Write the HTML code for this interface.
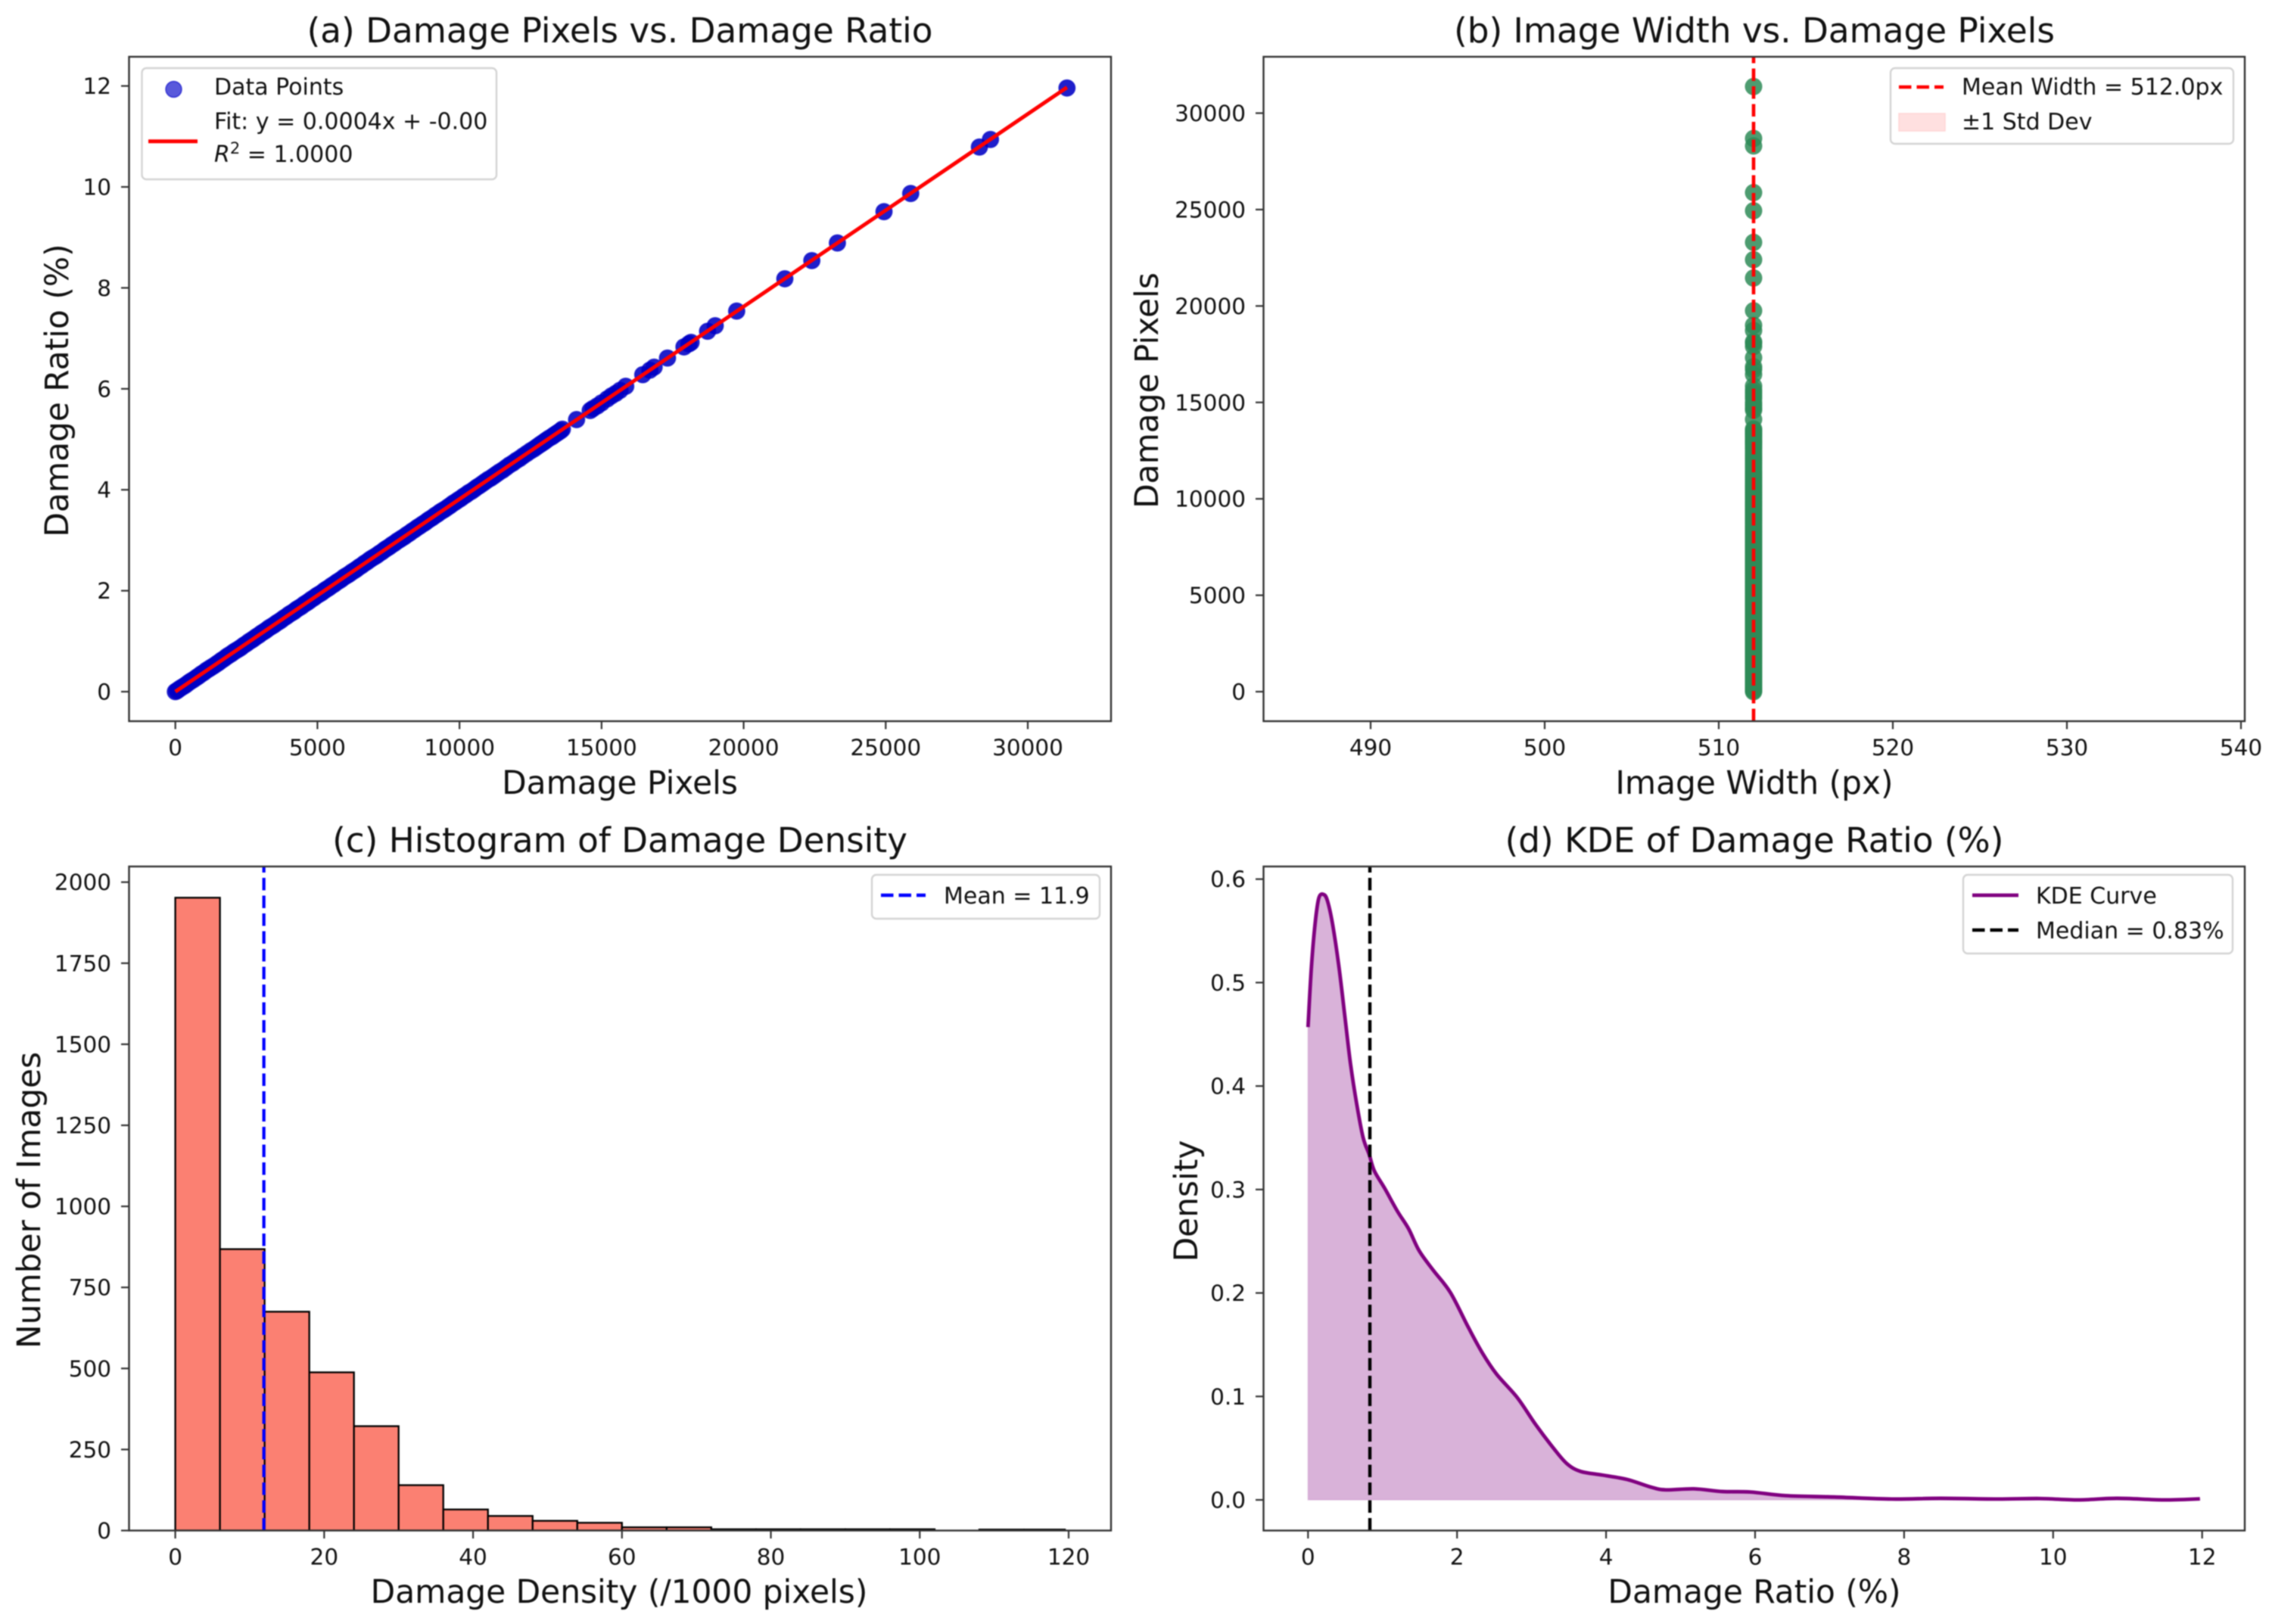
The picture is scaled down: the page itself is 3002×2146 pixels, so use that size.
<!DOCTYPE html>
<html lang="en">
<head>
<meta charset="utf-8">
<title>Damage statistics figure</title>
<style>
html,body{margin:0;padding:0;background:#fff;}
svg{display:block;filter:blur(0.9px);}
text{font-family:"DejaVu Sans","Liberation Sans",sans-serif;fill:#111;}
.tick{font-size:29.5px;}
.leg{font-size:30px;}
.lab{font-size:42.3px;}
.ttl{font-size:45.3px;}
.spine{fill:none;stroke:#333;stroke-width:2.4;}
.legbox{fill:#fff;fill-opacity:.85;stroke:#d4d4d4;stroke-width:2.4;}
</style>
</head>
<body>
<svg id="figure" xmlns="http://www.w3.org/2000/svg" width="3002" height="2146" viewBox="0 0 3002 2146">
  <rect width="3002" height="2146" fill="#fff"/>
  <defs>
    <clipPath id="clip-a"><rect x="170.5" y="75" width="1297.5" height="878"/></clipPath>
    <clipPath id="clip-b"><rect x="1669.5" y="75" width="1296.5" height="878"/></clipPath>
    <clipPath id="clip-c"><rect x="170.5" y="1145" width="1297.5" height="877.5"/></clipPath>
    <clipPath id="clip-d"><rect x="1669.5" y="1145" width="1296.5" height="877.5"/></clipPath>
  </defs>

  <g id="panel-a">
    <g id="marks-a" clip-path="url(#clip-a)"></g>
    <rect class="spine" x="170.5" y="75" width="1297.5" height="878"/>
    <g id="ticks-a"></g>
    <text class="ttl" x="819" y="56" text-anchor="middle">(a) Damage Pixels vs. Damage Ratio</text>
    <text class="lab" x="819" y="1049" text-anchor="middle">Damage Pixels</text>
    <text class="lab" transform="translate(90,516) rotate(-90)" text-anchor="middle">Damage Ratio (%)</text>
    <g>
      <rect class="legbox" x="187.5" y="90" width="468.5" height="147" rx="6"/>
      <circle cx="229.5" cy="118" r="10.5" fill="#0000c8" fill-opacity=".65" stroke="#0000c8" stroke-opacity=".65" stroke-width="1.5"/>
      <text class="leg" x="283" y="125">Data Points</text>
      <line x1="196" x2="261" y1="186.7" y2="186.7" stroke="#ff0000" stroke-width="5"/>
      <text class="leg" x="283" y="170.5">Fit: y = 0.0004x + -0.00</text>
      <text class="leg" x="283" y="214"><tspan font-style="italic">R</tspan><tspan dy="-11" font-size="21">2</tspan><tspan dy="11"> = 1.0000</tspan></text>
    </g>
  </g>

  <g id="panel-b">
    <g id="marks-b" clip-path="url(#clip-b)"></g>
    <rect class="spine" x="1669.5" y="75" width="1296.5" height="878"/>
    <g id="ticks-b"></g>
    <text class="ttl" x="2318" y="56" text-anchor="middle">(b) Image Width vs. Damage Pixels</text>
    <text class="lab" x="2318" y="1049" text-anchor="middle">Image Width (px)</text>
    <text class="lab" transform="translate(1530,516) rotate(-90)" text-anchor="middle">Damage Pixels</text>
    <g>
      <rect class="legbox" x="2498" y="90" width="453" height="100" rx="6"/>
      <line x1="2509" x2="2568" y1="115" y2="115" stroke="#ff0000" stroke-width="4.6" stroke-dasharray="16.5 7"/>
      <text class="leg" x="2592" y="125">Mean Width = 512.0px</text>
      <rect x="2509" y="150" width="61" height="23" fill="#ffe0e0" stroke="#ffd6d6" stroke-width="1.5"/>
      <text class="leg" x="2592" y="171">±1 Std Dev</text>
    </g>
  </g>

  <g id="panel-c">
    <g id="marks-c" clip-path="url(#clip-c)"></g>
    <rect class="spine" x="170.5" y="1145" width="1297.5" height="877.5"/>
    <g id="ticks-c"></g>
    <text class="ttl" x="819" y="1126" text-anchor="middle">(c) Histogram of Damage Density</text>
    <text class="lab" x="818" y="2118" text-anchor="middle">Damage Density (/1000 pixels)</text>
    <text class="lab" transform="translate(53,1586) rotate(-90)" text-anchor="middle">Number of Images</text>
    <g>
      <rect class="legbox" x="1152" y="1156" width="301" height="58" rx="6"/>
      <line x1="1164" x2="1223" y1="1183" y2="1183" stroke="#0000ff" stroke-width="4.6" stroke-dasharray="16.5 7"/>
      <text class="leg" x="1247" y="1194">Mean = 11.9</text>
    </g>
  </g>

  <g id="panel-d">
    <g id="marks-d" clip-path="url(#clip-d)"></g>
    <rect class="spine" x="1669.5" y="1145" width="1296.5" height="877.5"/>
    <g id="ticks-d"></g>
    <text class="ttl" x="2318" y="1126" text-anchor="middle">(d) KDE of Damage Ratio (%)</text>
    <text class="lab" x="2318" y="2118" text-anchor="middle">Damage Ratio (%)</text>
    <text class="lab" transform="translate(1582,1587) rotate(-90)" text-anchor="middle">Density</text>
    <g>
      <rect class="legbox" x="2594" y="1156" width="356" height="104" rx="6"/>
      <line x1="2606" x2="2667" y1="1183" y2="1183" stroke="#800080" stroke-width="4.8"/>
      <text class="leg" x="2690" y="1194">KDE Curve</text>
      <line x1="2606" x2="2667" y1="1229" y2="1229" stroke="#000" stroke-width="4.6" stroke-dasharray="16.5 7"/>
      <text class="leg" x="2690" y="1240">Median = 0.83%</text>
    </g>
  </g>
</svg>

<script>
// Panel (a) / (b) data
const damagePixels = [0,60,130,210,300,380,470,550,640,740,820,910,1000,1090,1180,1260,1350,1450,1530,1620,1710,1800,1880,1970,2060,2150,2240,2320,2410,2500,2590,2680,2760,2850,2940,3030,3120,3200,3290,3380,3470,3560,3650,3730,3820,3910,4000,4090,4180,4260,4350,4440,4530,4620,4700,4790,4880,4970,5060,5150,5240,5320,5410,5500,5590,5680,5770,5850,5940,6030,6120,6210,6300,6380,6470,6560,6650,6740,6830,6910,7000,7090,7180,7270,7360,7440,7530,7620,7710,7800,7890,7970,8060,8150,8240,8330,8420,8510,8600,8700,8790,8880,8960,9050,9140,9230,9320,9410,9500,9600,9680,9770,9860,9960,10050,10140,10230,10320,10420,10520,10610,10700,10800,10900,11000,11100,11200,11300,11400,11520,11640,11760,11880,12000,12120,12240,12370,12500,12620,12720,12820,12900,12980,13050,13150,13250,13320,13400,13480,13560,13620,14120,14600,14700,14850,15000,15200,15350,15500,15650,15850,16450,16700,16850,17320,17900,18070,18150,18730,19000,19755,21450,22400,23300,24940,25880,28298,28687,31380];
const damageRatio = [0,.02,.05,.08,.11,.14,.18,.21,.24,.28,.31,.35,.38,.42,.45,.48,.51,.55,.58,.62,.65,.69,.72,.75,.79,.82,.85,.88,.92,.95,.99,1.02,1.05,1.09,1.12,1.16,1.19,1.22,1.26,1.29,1.32,1.36,1.39,1.42,1.46,1.49,1.53,1.56,1.59,1.63,1.66,1.69,1.73,1.76,1.79,1.83,1.86,1.90,1.93,1.96,2.00,2.03,2.06,2.10,2.13,2.17,2.20,2.23,2.27,2.30,2.33,2.37,2.40,2.43,2.47,2.50,2.54,2.57,2.61,2.64,2.67,2.70,2.74,2.77,2.81,2.84,2.87,2.91,2.94,2.98,3.01,3.04,3.07,3.11,3.14,3.18,3.21,3.25,3.28,3.32,3.35,3.39,3.42,3.45,3.49,3.52,3.56,3.59,3.62,3.66,3.69,3.73,3.76,3.80,3.83,3.87,3.90,3.94,3.97,4.01,4.05,4.08,4.12,4.16,4.20,4.23,4.27,4.31,4.35,4.39,4.44,4.49,4.53,4.58,4.62,4.67,4.72,4.77,4.81,4.85,4.89,4.92,4.95,4.98,5.02,5.05,5.08,5.11,5.14,5.17,5.20,5.39,5.57,5.61,5.66,5.72,5.80,5.86,5.91,5.97,6.05,6.28,6.37,6.43,6.61,6.83,6.89,6.92,7.14,7.25,7.54,8.18,8.54,8.89,9.51,9.87,10.79,10.94,11.96];
const fitEndpoints = [0, 31380];
const fitSlope = 0.0003815;
const fitIntercept = 0;
const meanWidth = 512;
const xTicksA = [0,5000,10000,15000,20000,25000,30000];
const yTicksA = [0,2,4,6,8,10,12];
const xTicksB = [490,500,510,520,530,540];
const yTicksB = [0,5000,10000,15000,20000,25000,30000];

// Panel (c) data
const binEdges = [0,6,12,18,24,30,36,42,48,54,60,66,72,78,84,90,96,102,108,114,119.5];
const binCounts = [1952,868,675,488,322,140,65,45,30,24,10,10,4,4,4,4,4,0,3,3];
const meanDensity = 11.9;
const xTicksC = [0,20,40,60,80,100,120];
const yTicksC = [0,250,500,750,1000,1250,1500,1750,2000];

// Panel (d) data
const kdeRatio = [0,.044,.095,.146,.214,.265,.333,.418,.503,.571,.655,.74,.82,.89,1.03,1.2,1.35,1.49,1.68,1.91,2.15,2.34,2.53,2.81,3.05,3.29,3.475,3.66,3.95,4.28,4.61,4.8,5.18,5.56,5.94,6.41,7.07,7.83,8.49,9.25,9.82,10.34,10.86,11.48,11.97];
const kdeDensity = [.457,.5135,.557,.582,.585,.578,.555,.5135,.462,.421,.382,.35,.334,.318,.301,.279,.262,.241,.222,.2005,.167,.142,.1216,.0987,.0733,.0504,.035,.0275,.024,.0198,.0122,.0097,.0107,.0081,.0076,.0041,.0028,.0008,.0015,.0008,.0013,0,.0015,0,.001];
const medianRatio = 0.83;
const xTicksD = [0,2,4,6,8,10,12];
const yTicksD = [0,.1,.2,.3,.4,.5,.6];

// Axis functions
function linear(d0, d1, r0, r1) { return v => r0 + (v - d0) * (r1 - r0) / (d1 - d0); }
const xA = linear(0, 30000, 231.7, 1358);
const yA = linear(0, 12, 914, 113.6);
const xB = linear(510, 520, 2271, 2501);
const yB = linear(0, 30000, 914, 149.5);
const xC = linear(0, 120, 231.6, 1412);
const yC = linear(0, 2000, 2022.5, 1165.7);
const xD = linear(0, 12, 1728.3, 2909.7);
const yD = linear(0, .6, 1982, 1161.7);

const NS = 'http://www.w3.org/2000/svg';
function make(tag, attrs, parent) {
  const n = document.createElementNS(NS, tag);
  for (const k in attrs) n.setAttribute(k, attrs[k]);
  parent.appendChild(n);
  return n;
}
function byId(id) { return document.getElementById(id); }

function drawXTicks(group, values, scale, bottom, fmt) {
  values.forEach(v => {
    const x = scale(v);
    const mark = make('line', {x1:x, x2:x, y1:bottom, y2:bottom + 10.5, stroke:'#333', 'stroke-width':2.2}, group);
    
    
    const label = make('text', {x:x, y:bottom + 45, 'text-anchor':'middle', class:'tick'}, group);
    label.textContent = fmt ? fmt(v) : String(v);
    
    
  });
}
function drawYTicks(group, values, scale, left, fmt) {
  values.forEach(v => {
    const y = scale(v);
    const mark = make('line', {x1:left - 10.5, x2:left, y1:y, y2:y, stroke:'#333', 'stroke-width':2.2}, group);
    
    
    const label = make('text', {x:left - 23.5, y:y + 10.5, 'text-anchor':'end', class:'tick'}, group);
    label.textContent = fmt ? fmt(v) : String(v);
    
    
  });
}
function smoothPath(xs, ys) {
  let d = 'M' + xs[0] + ' ' + ys[0];
  for (let i = 0; i < xs.length - 1; i++) {
    const a = Math.max(i - 1, 0), b = Math.min(i + 2, xs.length - 1);
    const c1x = xs[i] + (xs[i + 1] - xs[a]) / 6, c1y = ys[i] + (ys[i + 1] - ys[a]) / 6;
    const c2x = xs[i + 1] - (xs[b] - xs[i]) / 6, c2y = ys[i + 1] - (ys[b] - ys[i]) / 6;
    d += 'C' + c1x + ' ' + c1y + ' ' + c2x + ' ' + c2y + ' ' + xs[i + 1] + ' ' + ys[i + 1];
  }
  return d;
}

// Panel (a)
const marksA = byId('marks-a');
damagePixels.forEach((px, i) => {
  const dot = make('circle', {cx:xA(px), cy:yA(damageRatio[i]), r:10.8, fill:'#0000c4', 'fill-opacity':.88, stroke:'#0000c4', 'stroke-opacity':.6, 'stroke-width':1.5}, marksA);
  
  
});
const fitLine = make('line', {x1:xA(fitEndpoints[0]), y1:yA(fitSlope * fitEndpoints[0] + fitIntercept), x2:xA(fitEndpoints[1]), y2:yA(fitSlope * fitEndpoints[1] + fitIntercept), stroke:'#ff0000', 'stroke-width':5}, marksA);


drawXTicks(byId('ticks-a'), xTicksA, xA, 953);
drawYTicks(byId('ticks-a'), yTicksA, yA, 170.5);

// Panel (b)
const marksB = byId('marks-b');
damagePixels.forEach(px => {
  const dot = make('circle', {cx:xB(meanWidth), cy:yB(px), r:11.5, fill:'#2e8b57', 'fill-opacity':.85}, marksB);
  
  
});
const meanWidthLine = make('line', {x1:xB(meanWidth), x2:xB(meanWidth), y1:953, y2:75, stroke:'#ff0000', 'stroke-width':4.6, 'stroke-dasharray':'16.5 7'}, marksB);


drawXTicks(byId('ticks-b'), xTicksB, xB, 953);
drawYTicks(byId('ticks-b'), yTicksB, yB, 1669.5);

// Panel (c)
const marksC = byId('marks-c');
binCounts.forEach((count, i) => {
  const x0 = xC(binEdges[i]), x1 = xC(binEdges[i + 1]), top = yC(count);
  const bar = make('rect', {x:x0, y:top, width:x1 - x0, height:yC(0) - top, fill:'#fb8072', stroke:'#000', 'stroke-width':2.3}, marksC);
  
  
});
const meanLine = make('line', {x1:xC(meanDensity), x2:xC(meanDensity), y1:2022.5, y2:1145, stroke:'#0000ff', 'stroke-width':4.2, 'stroke-dasharray':'16.5 7'}, marksC);


drawXTicks(byId('ticks-c'), xTicksC, xC, 2022.5);
drawYTicks(byId('ticks-c'), yTicksC, yC, 170.5);

// Panel (d)
const marksD = byId('marks-d');
const kdeX = kdeRatio.map(xD);
const kdeY = kdeDensity.map(yD);
const curve = smoothPath(kdeX, kdeY);
const kdeFill = make('path', {d:curve + 'L' + xD(kdeRatio[kdeRatio.length - 1]) + ' ' + yD(0) + 'L' + xD(kdeRatio[0]) + ' ' + yD(0) + 'Z', fill:'#800080', 'fill-opacity':.3, stroke:'#800080', 'stroke-opacity':.1, 'stroke-width':2}, marksD);


const kdeLine = make('path', {d:curve, fill:'none', stroke:'#800080', 'stroke-width':4.8}, marksD);


const medianLine = make('line', {x1:xD(medianRatio), x2:xD(medianRatio), y1:2022.5, y2:1145, stroke:'#000', 'stroke-width':4.4, 'stroke-dasharray':'16.5 7'}, marksD);


drawXTicks(byId('ticks-d'), xTicksD, xD, 2022.5);
drawYTicks(byId('ticks-d'), yTicksD, yD, 1669.5, v => v.toFixed(1));
</script>
</body>
</html>
